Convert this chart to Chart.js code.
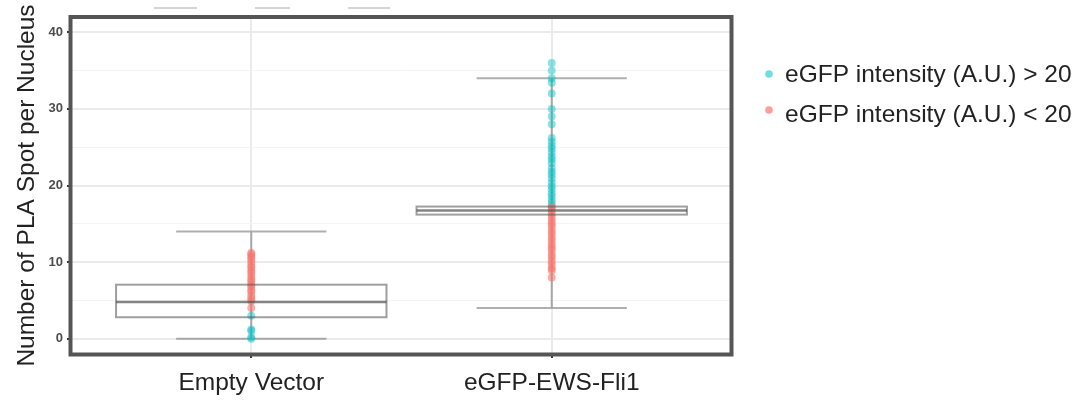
<!DOCTYPE html>
<html>
<head>
<meta charset="utf-8">
<script src="https://cdn.jsdelivr.net/npm/chart.js@4.4.0/dist/chart.umd.min.js"></script>
<style>
    html, body { margin: 0; padding: 0; background: #fff; }
    #wrap { position: relative; width: 1082px; height: 401px; }
</style>
</head>
<body>
<div id="wrap"><canvas id="plaChart" width="1082" height="401"></canvas></div>
<script>
// === DATA ===
const categories = ['Empty Vector', 'eGFP-EWS-Fli1'];
const yTicks = [0, 5, 10, 15, 20, 25, 30, 35, 40];

const highLabel = 'eGFP intensity (A.U.) > 20';
const lowLabel = 'eGFP intensity (A.U.) < 20';

// points per category (PLA spots per nucleus)
const highEmpty = [0, 0.2, 1, 1.2, 3];
const highFli1 = [36, 35, 34, 33.4, 32, 30, 29, 28, 26.2, 25.7, 25.2, 24.8, 24.3, 23.8, 23.4, 22.9, 22.3,
                  21.8, 21.4, 20.9, 20.4, 19.9, 19.5, 19, 18.6, 18.1, 17.7, 17.3];
const lowEmpty = [4, 4.9, 5.2, 5.6, 6.1, 6.4, 6.8, 7.1, 7.5, 7.8, 8.2, 8.6, 8.9, 9.3, 9.6, 10, 10.4, 10.7, 11, 11.2];
const lowFli1 = [17.2, 16.8, 16.3, 15.9, 15.4, 15, 14.6, 14.1, 13.7, 13.2, 12.8, 12.3, 11.9, 11.5, 11, 10.6,
                 10.1, 9.7, 9.2, 8.9, 8];

// box summary per category
const whiskerLow = [0, 4];
const boxQ1 = [2.8, 16.2];
const boxMedian = [4.8, 16.75];
const boxQ3 = [7.05, 17.25];
const whiskerHigh = [14, 34];

const FONT = '"Liberation Sans", Arial, Helvetica, sans-serif';
const TEAL = 'rgba(0, 191, 196, 0.45)';
const RED = 'rgba(248, 118, 109, 0.6)';

function toPoints(idx, values) {
    return values.map(v => ({ x: idx, y: v }));
}

// Whiskers + caps under the points, boxes on top of them
const boxPlugin = {
    id: 'boxPlugin',
    beforeDraw(chart) {
        const ctx = chart.ctx;
        ctx.save();
        ctx.fillStyle = '#fff';
        ctx.fillRect(0, 0, chart.width, chart.height);
        ctx.restore();
    },
    beforeDatasetsDraw(chart) {
        const { ctx, scales: { x, y } } = chart;
        ctx.save();
        ctx.strokeStyle = 'rgba(110, 110, 110, 0.55)';
        ctx.lineWidth = 2;
        categories.forEach((c, i) => {
            const cx = x.getPixelForValue(i);
            ctx.beginPath();
            ctx.moveTo(cx, y.getPixelForValue(whiskerLow[i]));
            ctx.lineTo(cx, y.getPixelForValue(whiskerHigh[i]));
            [whiskerLow[i], whiskerHigh[i]].forEach(v => {
                const py = y.getPixelForValue(v);
                ctx.moveTo(x.getPixelForValue(i - 0.25), py);
                ctx.lineTo(x.getPixelForValue(i + 0.25), py);
            });
            ctx.stroke();
        });
        ctx.restore();
    },
    afterDatasetsDraw(chart) {
        const { ctx, scales: { x, y } } = chart;
        ctx.save();
        categories.forEach((c, i) => {
            const x0 = x.getPixelForValue(i - 0.45);
            const x1 = x.getPixelForValue(i + 0.45);
            const top = y.getPixelForValue(boxQ3[i]);
            const bot = y.getPixelForValue(boxQ1[i]);
            ctx.strokeStyle = 'rgba(80, 80, 80, 0.55)';
            ctx.lineWidth = 2;
            ctx.strokeRect(x0, top, x1 - x0, bot - top);
            ctx.strokeStyle = 'rgba(80, 80, 80, 0.7)';
            ctx.lineWidth = 2.5;
            const my = y.getPixelForValue(boxMedian[i]);
            ctx.beginPath();
            ctx.moveTo(x0, my);
            ctx.lineTo(x1, my);
            ctx.stroke();
        });
        ctx.restore();
    },
    afterDraw(chart) {
        const { ctx, chartArea: a } = chart;
        ctx.save();
        // panel border
        ctx.strokeStyle = '#555';
        ctx.lineWidth = 4;
        ctx.strokeRect(a.left - 0.5, a.top, a.right - a.left, a.bottom - a.top + 0.5);

        // faint dashes cut off above the panel
        ctx.strokeStyle = '#d4d4d4';
        ctx.lineWidth = 2;
        ctx.beginPath();
        [[154, 197], [255, 290], [348, 390]].forEach(([s, e]) => {
            ctx.moveTo(s, 8);
            ctx.lineTo(e, 8);
        });
        ctx.stroke();

        // legend
        const items = [
            { label: highLabel, color: 'rgba(0, 191, 196, 0.55)', dotY: 74, baseY: 81.5 },
            { label: lowLabel, color: 'rgba(248, 118, 109, 0.7)', dotY: 110, baseY: 121.5 }
        ];
        ctx.font = '24.5px ' + FONT;
        ctx.textBaseline = 'alphabetic';
        items.forEach(it => {
            ctx.fillStyle = it.color;
            ctx.beginPath();
            ctx.arc(769, it.dotY, 3.8, 0, Math.PI * 2);
            ctx.fill();
            ctx.fillStyle = '#222';
            ctx.fillText(it.label, 785, it.baseY);
        });
        ctx.restore();
    }
};

const ctx = document.getElementById('plaChart').getContext('2d');
new Chart(ctx, {
    type: 'scatter',
    data: {
        datasets: [
            {
                label: lowLabel,
                data: toPoints(0, lowEmpty).concat(toPoints(1, lowFli1)),
                backgroundColor: RED,
                borderWidth: 0,
                pointRadius: 4
            },
            {
                label: highLabel,
                data: toPoints(0, highEmpty).concat(toPoints(1, highFli1)),
                backgroundColor: TEAL,
                borderWidth: 0,
                pointRadius: 4
            }
        ]
    },
    options: {
        responsive: false,
        animation: false,
        devicePixelRatio: 1,
        layout: { padding: { left: 0, top: 17, right: 350, bottom: 0 } },
        plugins: {
            legend: { display: false },
            tooltip: { enabled: false }
        },
        scales: {
            x: {
                type: 'linear',
                min: -0.6,
                max: 1.6,
                afterBuildTicks: s => { s.ticks = categories.map((c, i) => ({ value: i })); },
                afterFit: s => { s.height = 47; },
                border: { display: false },
                grid: { color: '#ebebeb', lineWidth: 2, tickColor: '#333', tickLength: 4, tickWidth: 2 },
                ticks: {
                    autoSkip: false,
                    maxRotation: 0,
                    padding: 11,
                    color: '#222',
                    font: { family: FONT, size: 24.5 },
                    callback: v => categories[v] ?? ''
                }
            },
            y: {
                min: -2,
                max: 42,
                afterBuildTicks: s => { s.ticks = yTicks.map(v => ({ value: v })); },
                afterFit: s => { s.width = 71; },
                border: { display: false },
                grid: {
                    color: c => c.tick && c.tick.value % 10 === 0 ? '#ebebeb' : '#f3f3f3',
                    lineWidth: c => c.tick && c.tick.value % 10 === 0 ? 2 : 1,
                    tickColor: c => c.tick && c.tick.value % 10 === 0 ? '#333' : 'rgba(0,0,0,0)',
                    tickLength: 4,
                    tickWidth: 2
                },
                ticks: {
                    padding: 4,
                    color: '#4d4d4d',
                    font: { family: FONT, size: 13, weight: 'bold' },
                    callback: v => v % 10 === 0 ? v : ''
                },
                title: {
                    display: true,
                    text: 'Number of PLA Spot per Nucleus',
                    color: '#222',
                    font: { family: FONT, size: 24.5 },
                    padding: { top: 13, bottom: 0 }
                }
            }
        }
    },
    plugins: [boxPlugin]
});
</script>
</body>
</html>
